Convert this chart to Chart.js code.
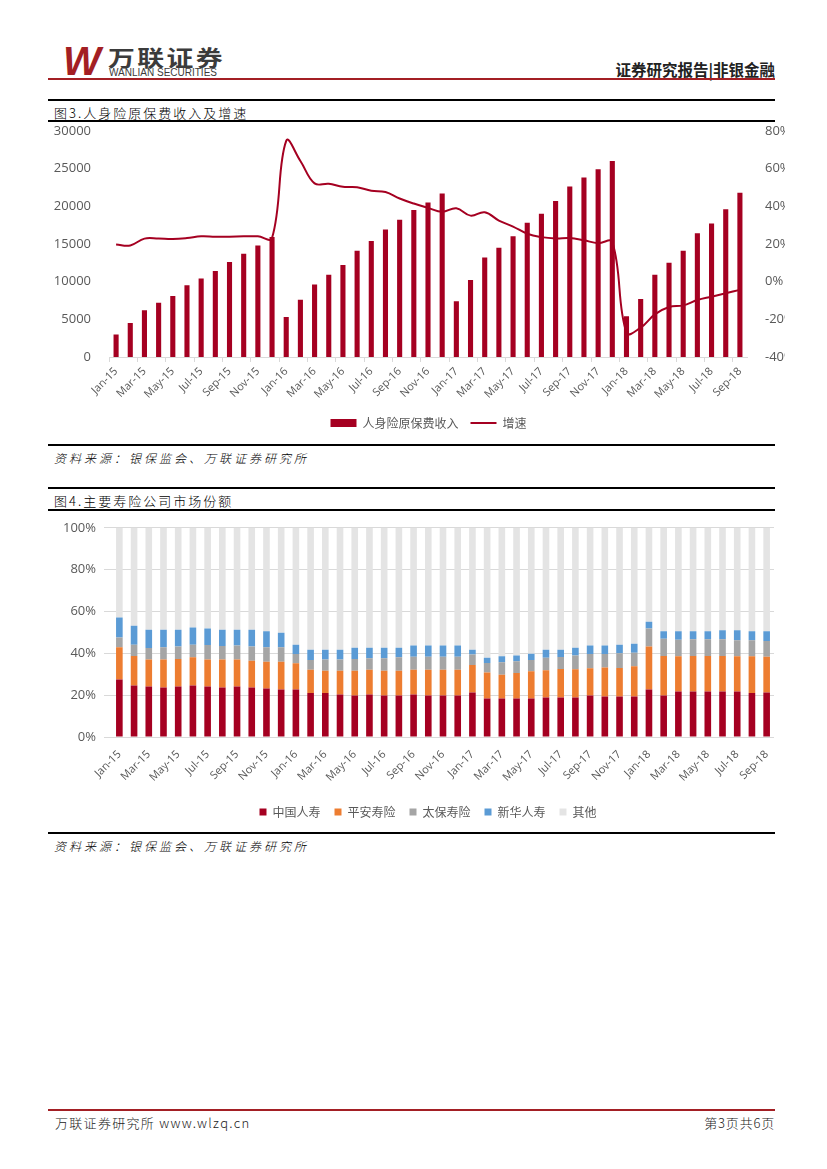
<!DOCTYPE html>
<html>
<head>
<meta charset="utf-8">
<script src="https://cdn.jsdelivr.net/npm/chart.js@4.4.0/dist/chart.umd.min.js"></script>
<style>
  body { margin: 0; background: #fff; font-family: "Noto Sans CJK SC", "Noto Sans", sans-serif; }
  .page { position: relative; width: 827px; height: 1169px; overflow: hidden; }
  .abs { position: absolute; }
  .rule { position: absolute; left: 48px; width: 727px; background: #000; }
  .red { background: #a31f24; }
  .cap { position: absolute; left: 54px; font-size: 13px; font-weight: 300; color: #000; letter-spacing: 2px; }
  .src { position: absolute; left: 54px; font-size: 12px; font-weight: 300; font-style: italic; color: #000; letter-spacing: 3px; }
</style>
</head>
<body>
<div class="page">
  <!-- шапка -->
  <div class="abs" style="left:63px;top:39px;font:italic bold 40px 'Liberation Sans';color:#a31f24;">W</div>
  <div class="abs" style="left:108px;top:40px;font:bold 22px 'Noto Sans CJK SC';color:#3b3b3b;letter-spacing:2px;transform:scaleX(1.22);transform-origin:left top;">万联证券</div>
  <div class="abs" style="left:109px;top:67px;font:10px 'Liberation Sans';color:#3b3b3b;">WANLIAN SECURITIES</div>
  <div class="abs" style="right:52px;top:58px;font:bold 15.5px 'Noto Sans CJK SC';color:#222;">证券研究报告|非银金融</div>
  <div class="rule red" style="top:78px;height:2px;"></div>

  <!-- график 3 -->
  <div class="rule" style="top:99px;height:2px;"></div>
  <div class="cap" style="top:103px;">图3.人身险原保费收入及增速</div>
  <div class="rule" style="top:120px;height:1.5px;"></div>
  <div class="abs" style="left:48px;top:113px;width:737px;height:330px;">
    <canvas id="premium-chart"></canvas>
  </div>
  <div class="rule" style="top:444px;height:2px;"></div>
  <div class="src" style="top:449px;">资料来源：银保监会、万联证券研究所</div>

  <!-- график 4 -->
  <div class="rule" style="top:487px;height:2px;"></div>
  <div class="cap" style="top:491px;">图4.主要寿险公司市场份额</div>
  <div class="rule" style="top:509px;height:1.5px;"></div>
  <div class="abs" style="left:48px;top:512px;width:760px;height:318px;">
    <canvas id="share-chart"></canvas>
  </div>
  <div class="rule" style="top:832px;height:2px;"></div>
  <div class="src" style="top:837px;">资料来源：银保监会、万联证券研究所</div>

  <!-- подвал -->
  <div class="rule red" style="top:1109px;height:2px;"></div>
  <div class="abs" style="left:55px;top:1113px;font-size:13px;font-weight:300;color:#222;letter-spacing:1.3px;">万联证券研究所 www.wlzq.cn</div>
  <div class="abs" style="right:52px;top:1113px;font-size:13px;font-weight:300;color:#222;letter-spacing:0.8px;">第3页共6页</div>
</div>

<script>
// Месяцы Jan-15 ... Sep-18
const months = [
  'Jan-15','Feb-15','Mar-15','Apr-15','May-15','Jun-15','Jul-15','Aug-15','Sep-15','Oct-15','Nov-15','Dec-15',
  'Jan-16','Feb-16','Mar-16','Apr-16','May-16','Jun-16','Jul-16','Aug-16','Sep-16','Oct-16','Nov-16','Dec-16',
  'Jan-17','Feb-17','Mar-17','Apr-17','May-17','Jun-17','Jul-17','Aug-17','Sep-17','Oct-17','Nov-17','Dec-17',
  'Jan-18','Feb-18','Mar-18','Apr-18','May-18','Jun-18','Jul-18','Aug-18','Sep-18'
];

// Рис.3: накопленный доход и рост, %
const premiumIncome = [
  3000, 4500, 6200, 7200, 8100, 9500, 10400, 11400, 12600, 13700, 14800, 15900,
  5300, 7600, 9600, 10900, 12200, 14100, 15400, 16900, 18200, 19500, 20500, 21700,
  7400, 10200, 13200, 14500, 16000, 17800, 19000, 20700, 22600, 23800, 24900, 26000,
  5400, 7700, 10900, 12500, 14100, 16400, 17700, 19600, 21800
];
const premiumGrowth = [
  19.7, 19.2, 22.8, 22.8, 22.6, 23.1, 24.0, 23.8, 23.8, 24.0, 24.0, 23.1,
  74.7, 64.0, 52.1, 51.9, 50.3, 50.1, 48.2, 47.5, 44.1, 41.4, 39.1, 37.0,
  38.9, 35.0, 36.8, 32.4, 29.2, 25.4, 23.6, 22.9, 23.1, 21.9, 20.4, 21.0,
  -27.2, -24.4, -17.4, -13.5, -12.6, -9.8, -8.0, -6.2, -4.4
];

// Рис.4: доли рынка, %
const shareChinaLife = [
  27.5, 24.6, 24.1, 23.7, 24.1, 24.6, 24.1, 23.7, 24.1, 23.7, 23.2, 22.7,
  22.7, 21.0, 21.0, 20.3, 19.8, 20.3, 19.8, 19.8, 20.3, 19.8, 19.8, 19.8,
  21.3, 18.4, 18.4, 18.4, 18.4, 18.9, 18.9, 18.9, 19.8, 19.4, 19.4, 19.4,
  22.7, 19.8, 21.7, 21.7, 21.7, 21.7, 21.7, 21.0, 21.3
];
const sharePingAn = [
  15.4, 14.1, 12.9, 13.3, 13.2, 13.5, 12.9, 13.3, 12.9, 12.8, 12.8, 13.3,
  12.5, 11.2, 10.7, 11.4, 11.9, 11.9, 11.9, 11.9, 11.9, 12.4, 12.4, 12.4,
  13.1, 12.4, 11.3, 12.2, 13.0, 13.0, 13.6, 13.5, 13.1, 13.8, 13.6, 14.4,
  20.6, 18.9, 16.9, 17.0, 17.0, 17.0, 16.9, 17.6, 17.1
];
const shareCpic = [
  4.7, 5.4, 5.5, 5.9, 6.0, 6.0, 7.0, 6.5, 6.7, 6.8, 6.9, 6.9,
  4.5, 4.6, 5.3, 5.3, 5.6, 5.4, 5.9, 6.4, 6.2, 6.2, 6.2, 6.2,
  5.0, 4.6, 6.0, 5.6, 5.4, 6.0, 5.8, 6.5, 6.8, 6.5, 7.0, 6.5,
  8.6, 8.3, 7.9, 8.0, 8.0, 8.0, 7.7, 7.7, 7.5
];
const shareNci = [
  9.5, 9.1, 8.8, 8.4, 8.0, 8.3, 7.9, 7.8, 7.6, 8.0, 7.6, 6.9,
  4.4, 4.9, 4.7, 4.7, 5.4, 5.1, 5.1, 4.6, 5.3, 5.3, 5.3, 5.3,
  2.3, 2.5, 2.9, 2.7, 3.0, 3.8, 3.4, 3.8, 4.0, 4.0, 4.1, 4.3,
  3.2, 3.5, 4.0, 3.8, 3.8, 4.3, 4.7, 4.2, 4.6
];
const shareOther = [
  42.9, 46.8, 48.7, 48.7, 48.7, 47.6, 48.1, 48.7, 48.7, 48.7, 49.5, 50.2,
  55.9, 58.3, 58.3, 58.3, 57.3, 57.3, 57.3, 57.3, 56.3, 56.3, 56.3, 56.3,
  58.3, 62.1, 61.4, 61.1, 60.2, 58.3, 58.3, 57.3, 56.3, 56.3, 55.9, 55.4,
  44.9, 49.5, 49.5, 49.5, 49.5, 49.0, 49.0, 49.5, 49.5
];

const axisFont = { family: "'Open Sans', 'Noto Sans', sans-serif", size: 11 };
const valueFont = { family: "'Open Sans', 'Noto Sans', sans-serif", size: 13 };
const legendFont = { family: "'Noto Sans CJK SC', sans-serif", size: 12 };
const textColor = '#595959';
const everyOther = function (value, index) {
  return index % 2 === 0 ? this.getLabelForValue(value) : '';
};

// Сдвиг легенды вправо (в оригинале она не по центру холста)
const legendShift = {
  id: 'legendShift',
  afterLayout(chart) {
    if (!chart.legend) return;
    chart.legend.left += 12;
    chart.legend.right += 12;
  }
};

// Рис.3
new Chart(document.getElementById('premium-chart'), {
  type: 'bar',
  data: {
    labels: months,
    datasets: [
      {
        type: 'line',
        label: '增速',
        data: premiumGrowth,
        yAxisID: 'y1',
        borderColor: '#a50021',
        borderWidth: 2,
        pointRadius: 0,
        tension: 0.4,
        pointStyle: 'line',
        order: 0
      },
      {
        label: '人身险原保费收入',
        data: premiumIncome,
        yAxisID: 'y',
        backgroundColor: '#a50021',
        barPercentage: 0.36,
        categoryPercentage: 1,
        pointStyle: 'rect',
        order: 1
      }
    ]
  },
  plugins: [legendShift],
  options: {
    responsive: true,
    maintainAspectRatio: false,
    animation: false,
    layout: { padding: { top: 1, bottom: 4 } },
    plugins: {
      legend: {
        position: 'bottom',
        reverse: true,
        labels: {
          usePointStyle: true,
          pointStyleWidth: 26,
          boxHeight: 8,
          color: textColor,
          font: legendFont,
          padding: 12
        }
      },
      tooltip: { enabled: false }
    },
    scales: {
      x: {
        offset: true,
        grid: {
          drawOnChartArea: false,
          tickLength: 5,
          color: (c) => c.index % 2 === 0 ? '#d9d9d9' : 'transparent'
        },
        border: { color: '#d9d9d9' },
        ticks: {
          autoSkip: false,
          maxRotation: 45,
          minRotation: 45,
          color: textColor,
          font: axisFont,
          callback: everyOther
        },
        afterFit: (scale) => { scale.height = 48; }
      },
      y: {
        position: 'left',
        min: 0,
        max: 30000,
        ticks: { stepSize: 5000, color: textColor, font: valueFont, padding: 10,
                 callback: (v) => String(v) },
        grid: { display: false },
        border: { display: false },
        afterFit: (scale) => { scale.width = 61; }
      },
      y1: {
        position: 'right',
        min: -40,
        max: 80,
        ticks: { stepSize: 20, color: textColor, font: valueFont, padding: 10,
                 callback: (v) => v + '%' },
        grid: { display: false },
        border: { display: false },
        afterFit: (scale) => { scale.width = 38; }
      }
    }
  }
});

// Рис.4
new Chart(document.getElementById('share-chart'), {
  type: 'bar',
  data: {
    labels: months,
    datasets: [
      { label: '中国人寿', data: shareChinaLife, backgroundColor: '#a50021' },
      { label: '平安寿险', data: sharePingAn, backgroundColor: '#ed7d31' },
      { label: '太保寿险', data: shareCpic, backgroundColor: '#a5a5a5' },
      { label: '新华人寿', data: shareNci, backgroundColor: '#5b9bd5' },
      { label: '其他', data: shareOther, backgroundColor: '#e4e4e4' }
    ]
  },
  options: {
    responsive: true,
    maintainAspectRatio: false,
    animation: false,
    datasets: { bar: { barPercentage: 0.45, categoryPercentage: 1 } },
    layout: { padding: { top: 8, bottom: 2 } },
    plugins: {
      legend: {
        position: 'bottom',
        labels: {
          boxWidth: 7,
          boxHeight: 7,
          color: textColor,
          font: legendFont,
          padding: 14
        }
      },
      tooltip: { enabled: false }
    },
    scales: {
      x: {
        stacked: true,
        offset: true,
        grid: { display: false },
        border: { display: false },
        ticks: {
          autoSkip: false,
          maxRotation: 45,
          minRotation: 45,
          color: textColor,
          font: axisFont,
          callback: everyOther
        },
        afterFit: (scale) => { scale.height = 55; }
      },
      y: {
        stacked: true,
        min: 0,
        max: 100,
        ticks: { stepSize: 20, color: textColor, font: valueFont, padding: 8,
                 callback: (v) => v + '%' },
        grid: { color: '#d9d9d9' },
        border: { display: false },
        afterFit: (scale) => { scale.width = 64; }
      },
      // пустое место справа, чтобы легенда встала по центру как в оригинале
      spacer: {
        position: 'right',
        display: true,
        ticks: { display: false },
        grid: { display: false },
        border: { display: false },
        afterFit: (scale) => { scale.width = 34; }
      }
    }
  }
});
</script>
</body>
</html>
